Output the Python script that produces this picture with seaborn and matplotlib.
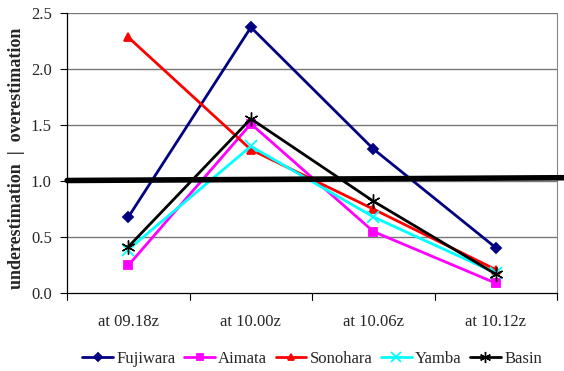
import matplotlib
matplotlib.use("Agg")
import matplotlib.pyplot as plt
import seaborn as sns
import pandas as pd

categories = ["at 09.18z", "at 10.00z", "at 10.06z", "at 10.12z"]
fujiwara = [0.68, 2.37, 1.285, 0.405]
aimata = [0.25, 1.51, 0.55, 0.09]
sonohara = [2.28, 1.28, 0.75, 0.21]
yamba = [0.39, 1.31, 0.68, 0.18]
basin = [0.415, 1.555, 0.82, 0.17]
series_names = ["Fujiwara", "Aimata", "Sonohara", "Yamba", "Basin"]
yticks = [0.0, 0.5, 1.0, 1.5, 2.0, 2.5]

series = [fujiwara, aimata, sonohara, yamba, basin]
rows = []
for name, vals in zip(series_names, series):
    for c, v in zip(categories, vals):
        rows.append({"time": c, "value": v, "station": name})
df = pd.DataFrame(rows)

sns.set_style("white")
plt.rcParams["font.family"] = ["Liberation Serif", "DejaVu Serif"]

palette = {"Fujiwara": "#000080", "Aimata": "#FF00FF", "Sonohara": "#FF0000",
           "Yamba": "#00FFFF", "Basin": "#000000"}
markers = {"Fujiwara": "D", "Aimata": "s", "Sonohara": "^", "Yamba": "x", "Basin": (6, 2, 0)}
msizes = {"Fujiwara": 5, "Aimata": 6, "Sonohara": 6, "Yamba": 9, "Basin": 10}
mews = {"Fujiwara": 1.3, "Aimata": 1.3, "Sonohara": 1.3, "Yamba": 1.3, "Basin": 1.0}

fig = plt.figure(figsize=(5.64, 3.71), dpi=100)
ax = fig.add_axes([0.119, 0.2094, 0.869, 0.7564])

for name in series_names:
    sub = df[df["station"] == name]
    sns.lineplot(data=sub, x="time", y="value", ax=ax, color=palette[name],
                 marker=markers[name], markersize=msizes[name], linewidth=2,
                 markeredgecolor=palette[name], markeredgewidth=mews[name],
                 label=name, sort=False)

ax.set_xlim(-0.5, len(categories) - 0.5)
ax.set_ylim(0, 2.5)
ax.set_yticks(yticks)
ax.set_yticklabels([f"{t:.1f}" for t in yticks], fontsize=12)
ax.set_xticks(range(len(categories)))
ax.set_xticklabels(categories, fontsize=12)
ax.tick_params(axis="x", length=0, pad=15)
ax.tick_params(axis="y", length=5, width=0.8, color="black", direction="out", left=True, pad=6)
for xb in [i - 0.5 for i in range(len(categories) + 1)]:
    ax.plot([xb, xb], [0, -0.06], color="black", lw=0.8, clip_on=False)

for t in yticks[1:]:
    ax.axhline(t, color="#777777", lw=1.0, zorder=0)

ax.spines["top"].set_visible(False)
ax.spines["right"].set_color("#888888")
ax.spines["left"].set_color("black")
ax.spines["bottom"].set_color("black")
ax.spines["left"].set_linewidth(0.9)
ax.spines["bottom"].set_linewidth(0.9)

ax.plot([0, 1.02], [1.005, 1.03], color="black", lw=4, transform=ax.get_yaxis_transform(),
        clip_on=False, zorder=5)

ax.set_xlabel("")
ax.set_ylabel("underestimation  |  overestimation", fontsize=13, fontweight="bold")
ax.yaxis.set_label_coords(-0.086, 0.48)

leg = ax.legend(loc="center", bbox_to_anchor=(0.5, -0.235), ncol=5, frameon=False,
                fontsize=12, handlelength=1.85, handletextpad=0.2, columnspacing=0.5,
                markerscale=0.8)

fig.savefig("out.png", dpi=100)
